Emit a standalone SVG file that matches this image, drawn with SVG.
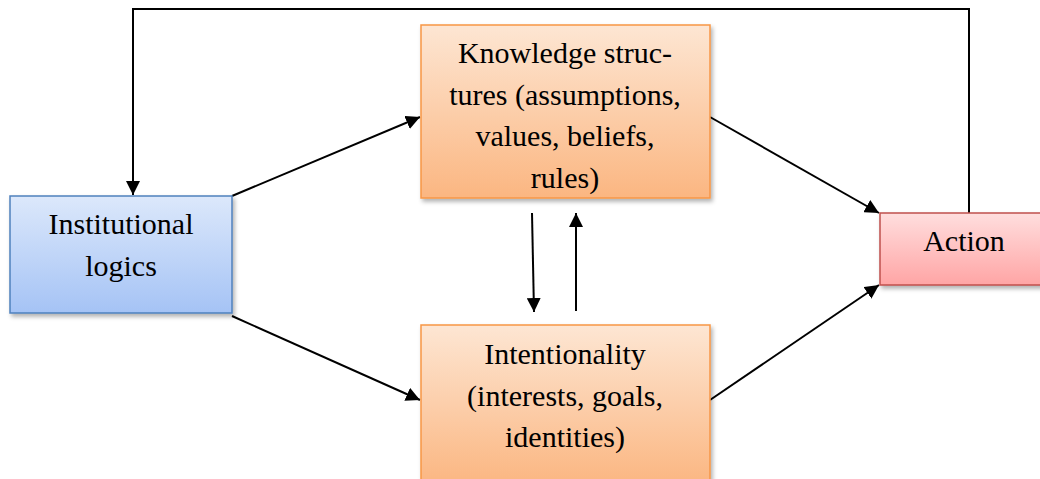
<svg xmlns="http://www.w3.org/2000/svg" width="1040" height="479" viewBox="0 0 1040 479">
<style>
text{font-family:'Liberation Serif','Times New Roman','DejaVu Serif',serif;font-size:30px;fill:#000;text-anchor:middle}
.c{stroke:#000;stroke-width:2;fill:none}
</style>
<defs>
<linearGradient id="gb" x1="0" y1="0" x2="0" y2="1"><stop offset="0" stop-color="#dce8fb"/><stop offset="1" stop-color="#a5c3f5"/></linearGradient>
<linearGradient id="go" x1="0" y1="0" x2="0" y2="1"><stop offset="0" stop-color="#fde6d3"/><stop offset="1" stop-color="#fbb681"/></linearGradient>
<linearGradient id="gr" x1="0" y1="0" x2="0" y2="1"><stop offset="0" stop-color="#ffdede"/><stop offset="1" stop-color="#ffa5a5"/></linearGradient>
<filter id="sh" x="-10%" y="-10%" width="130%" height="130%"><feDropShadow dx="2" dy="3" stdDeviation="2" flood-color="#000" flood-opacity="0.3"/></filter>
<marker id="ah2" viewBox="0 0 10 10" refX="10" refY="5" markerWidth="14" markerHeight="14" markerUnits="userSpaceOnUse" orient="auto"><path d="M0,0 L10,5 L0,10 z" fill="#000"/></marker>
</defs>
<g id="connectors">
<polyline class="c" points="969,213 969,9 133,9 133,195" marker-end="url(#ah2)"/>
<line class="c" x1="232" y1="196" x2="420" y2="117" marker-end="url(#ah2)"/>
<line class="c" x1="232" y1="316" x2="420" y2="400" marker-end="url(#ah2)"/>
<line class="c" x1="710" y1="117" x2="879" y2="213" marker-end="url(#ah2)"/>
<line class="c" x1="710" y1="400" x2="879" y2="285" marker-end="url(#ah2)"/>
<line class="c" x1="532" y1="213" x2="534" y2="312" marker-end="url(#ah2)"/>
<line class="c" x1="576" y1="311" x2="576" y2="213" marker-end="url(#ah2)"/>
</g>
<g id="institutional">
<rect x="10" y="196" width="222" height="117" fill="url(#gb)" stroke="#4f81bd" stroke-width="1.5" filter="url(#sh)"/>
<text x="121" y="234">Institutional</text>
<text x="121" y="276">logics</text>
</g>
<g id="knowledge">
<rect x="421" y="25" width="289" height="173" fill="url(#go)" stroke="#f79646" stroke-width="1.5" filter="url(#sh)"/>
<text x="565" y="63">Knowledge struc-</text>
<text x="565" y="105">tures (assumptions,</text>
<text x="565" y="146">values, beliefs,</text>
<text x="565" y="188">rules)</text>
</g>
<g id="intentionality">
<rect x="421" y="325" width="289" height="160" fill="url(#go)" stroke="#f79646" stroke-width="1.5" filter="url(#sh)"/>
<text x="565" y="364">Intentionality</text>
<text x="565" y="406">(interests, goals,</text>
<text x="565" y="447">identities)</text>
</g>
<g id="action">
<rect x="880" y="213" width="170" height="72" fill="url(#gr)" stroke="#c0504d" stroke-width="1.5" filter="url(#sh)"/>
<text x="964" y="251">Action</text>
</g>
</svg>
